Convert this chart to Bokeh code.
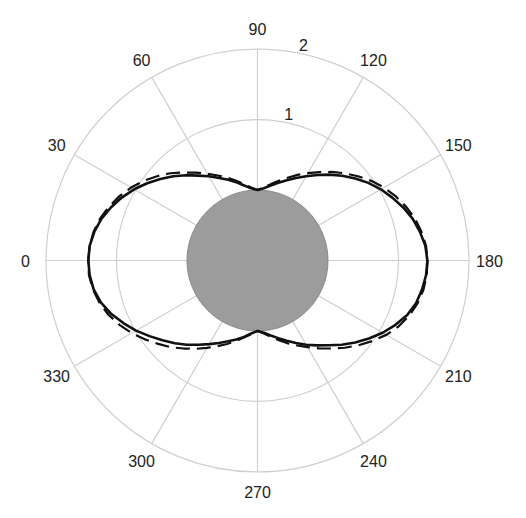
import numpy as np
from bokeh.plotting import figure
from bokeh.core.properties import value
from bokeh.embed import file_html
from bokeh.resources import INLINE

# ---- data ----
angles_deg = list(range(0, 365, 5))
solid_vals = [1.40, 1.39, 1.35, 1.29, 1.21, 1.12, 1.02, 0.91, 0.80, 0.69, 0.58, 0.47, 0.38, 0.29, 0.22, 0.15, 0.08, 0.03, 0.00,
              0.03, 0.08, 0.14, 0.21, 0.29, 0.38, 0.48, 0.59, 0.70, 0.81, 0.92, 1.02, 1.11, 1.20, 1.28, 1.34, 1.39, 1.41,
              1.40, 1.37, 1.33, 1.26, 1.16, 1.05, 0.93, 0.81, 0.69, 0.57, 0.47, 0.38, 0.29, 0.21, 0.14, 0.08, 0.03, 0.00,
              0.04, 0.10, 0.16, 0.22, 0.29, 0.37, 0.46, 0.56, 0.66, 0.76, 0.87, 0.99, 1.10, 1.21, 1.30, 1.36, 1.39, 1.40]
dashed_vals = [1.40, 1.39, 1.36, 1.31, 1.24, 1.16, 1.07, 0.97, 0.86, 0.75, 0.63, 0.52, 0.42, 0.33, 0.25, 0.17, 0.10, 0.04, 0.00,
               0.04, 0.10, 0.17, 0.25, 0.34, 0.43, 0.53, 0.64, 0.75, 0.86, 0.97, 1.07, 1.16, 1.24, 1.31, 1.36, 1.40, 1.41,
               1.41, 1.39, 1.35, 1.29, 1.21, 1.11, 0.99, 0.87, 0.75, 0.63, 0.52, 0.42, 0.33, 0.25, 0.17, 0.10, 0.04, 0.00,
               0.05, 0.11, 0.18, 0.26, 0.34, 0.43, 0.53, 0.63, 0.74, 0.84, 0.95, 1.06, 1.16, 1.25, 1.32, 1.37, 1.40, 1.40]
spoke_angles = [0, 30, 60, 90, 120, 150, 180, 210, 240, 270, 300, 330]
spoke_labels = ["0", "30", "60", "90", "120", "150", "180", "210", "240", "270", "300", "330"]
ring_values = [1, 2]
ring_labels = ["1", "2"]
body_radius = 1.0
ring_label_angle = 102
label_radius = 3.29


def to_xy(theta_deg, r):
    t = np.radians(np.asarray(theta_deg, dtype=float))
    r = np.asarray(r, dtype=float)
    return -r * np.cos(t), r * np.sin(t)


scale = 70.5
W, H = 510, 502
cx, cy = 257, 260
p = figure(width=W, height=H, output_backend="svg", toolbar_location=None,
           x_range=(-cx / scale, (W - cx) / scale), y_range=(-(H - cy) / scale, cy / scale),
           min_border=0, background_fill_color="white", border_fill_color="white")
p.axis.visible = False
p.grid.visible = False
p.outline_line_color = None

grid_color = "#cfcfcf"
outer = body_radius + max(ring_values)
# rings
p.circle(x=[0] * len(ring_values), y=[0] * len(ring_values),
         radius=[body_radius + v for v in ring_values],
         fill_color=None, line_color=grid_color, line_width=1.2)
# spokes
sx, sy = to_xy(spoke_angles, [outer] * len(spoke_angles))
p.segment(x0=[0] * len(spoke_angles), y0=[0] * len(spoke_angles), x1=sx, y1=sy,
          line_color=grid_color, line_width=1.2)

# body
p.circle(x=[0], y=[0], radius=[body_radius], fill_color="#9c9c9c",
         line_color="#888888", line_width=1)

# curves
xs, ys = to_xy(angles_deg, [body_radius + v for v in solid_vals])
xd, yd = to_xy(angles_deg, [body_radius + v for v in dashed_vals])
p.line(xd, yd, line_color="#111111", line_width=2.2, line_dash="14 7", line_join="round")
p.line(xs, ys, line_color="#111111", line_width=2.6, line_join="round")

# angle labels
lx, ly = to_xy(spoke_angles, [label_radius] * len(spoke_angles))
p.text(x=lx, y=ly, text=spoke_labels, text_align="center", text_baseline="middle",
       text_font=value("Liberation Sans"), text_font_size="16px", text_color="#222222")

# ring labels
rx, ry = to_xy([ring_label_angle] * len(ring_values), [body_radius + v + 0.13 for v in ring_values])
p.text(x=rx, y=ry, text=ring_labels, text_align="center", text_baseline="middle",
       text_font=value("Liberation Sans"), text_font_size="16px", text_color="#222222")

open("out.html", "w").write(file_html(p, INLINE))
